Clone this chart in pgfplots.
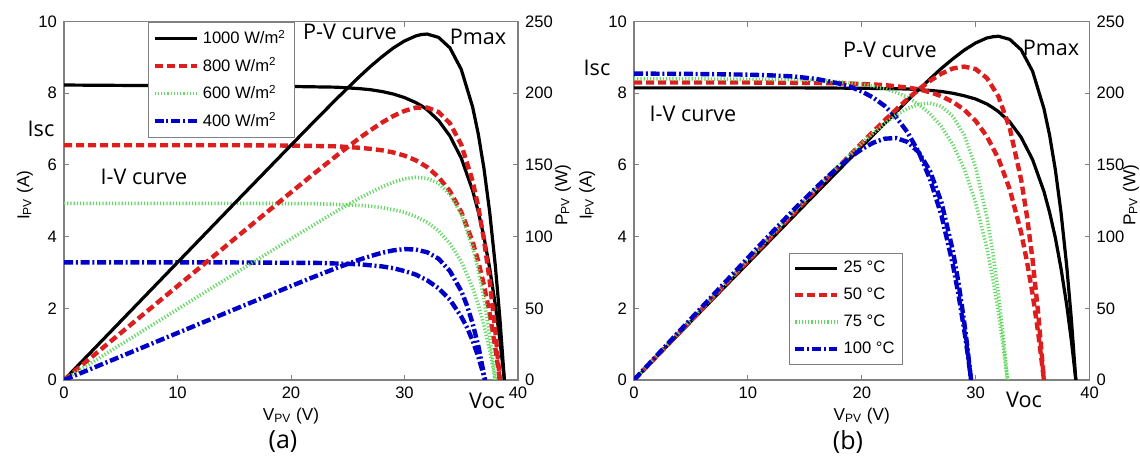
\documentclass[border=0pt]{standalone}
\usepackage{fontspec}
\setmainfont{Liberation Sans}
\newfontfamily\osans{Open Sans}
\usepackage{pgfplots}
\pgfplotsset{compat=1.18}

\definecolor{cred}{RGB}{220,30,30}
\definecolor{cgreen}{RGB}{100,215,100}
\definecolor{cblue}{RGB}{0,0,200}
\definecolor{axgray}{RGB}{128,128,128}

\pgfplotsset{
  pvbase/.style={
    scale only axis, width=227pt, height=179.2pt,
    xmin=0, xmax=40,
    tick align=inside, major tick length=2.5pt,
    every tick/.style={axgray, line width=0.5pt},
    axis line style={axgray, line width=0.6pt},
    tick label style={font=\fontsize{8.3}{10}\selectfont, black},
    /pgf/number format/assume math mode=true,
  },
  iaxis/.style={pvbase, ymin=0, ymax=10, ytick={0,2,...,10}, xtick={0,10,...,40},
    ytick pos=left, xlabel={V\textsubscript{PV} (V)}, ylabel={I\textsubscript{PV} (A)},
    every axis x label/.style={at={(axis description cs:0.5,-0.1)}, anchor=center, font=\fontsize{8.6}{10}\selectfont}},
  paxis/.style={pvbase, axis x line=none, axis y line*=right, ytick pos=right, yticklabel pos=right,
    tick align=inside, ymin=0, ymax=250, ytick={0,50,...,250}, ylabel={P\textsubscript{PV} (W)},
    legend cell align=left,
    legend image code/.code={\draw[##1] (0pt,0pt) -- (21pt,0pt);}},
  c1/.style={black, line width=1.6pt},
  c2/.style={cred, line width=2.2pt, dash pattern=on 4pt off 2pt},
  c3/.style={cgreen, line width=1.8pt, dash pattern=on 0.6pt off 1pt},
  c4/.style={cblue, line width=2.2pt, dash pattern=on 4.5pt off 1.4pt on 1pt off 1.4pt},
}

\begin{document}
\begin{tikzpicture}
\useasboundingbox (0,0) rectangle (570pt,230pt);

% ---------------- panel (a) ----------------
\begin{axis}[iaxis, at={(32pt,40pt)}, anchor=south west,
  every axis y label/.style={at={(axis description cs:-0.086,0.516)}, rotate=90, anchor=center, font=\fontsize{8.6}{10}\selectfont}]
\addplot[c1] coordinates {(0,8.23)(5,8.22)(10,8.21)(15,8.20)(20,8.19)(22,8.18)(24,8.17)(26,8.13)(27,8.10)(28,8.05)(29,7.98)(30,7.88)(31,7.74)(31.5,7.65)(32,7.54)(33,7.24)(34,6.81)(35,6.19)(36,5.29)(36.5,4.70)(37,3.99)(37.5,3.13)(38,2.10)(38.4,1.13)(38.8,0)};
\addplot[c2] coordinates {(0,6.55)(5,6.55)(10,6.55)(15,6.55)(20,6.54)(22,6.53)(24,6.52)(26,6.48)(27,6.45)(28,6.41)(29,6.35)(30,6.26)(31,6.13)(32,5.94)(33,5.66)(34,5.27)(35,4.69)(36,3.86)(36.5,3.31)(37,2.65)(37.5,1.86)(38,0.90)(38.4,0)};
\addplot[c3] coordinates {(0,4.93)(5,4.93)(10,4.93)(15,4.93)(20,4.92)(22,4.92)(24,4.90)(26,4.87)(27,4.85)(28,4.81)(29,4.75)(30,4.68)(31,4.56)(32,4.40)(33,4.16)(34,3.81)(35,3.31)(36,2.58)(36.5,2.10)(37,1.53)(37.5,0.83)(38,0)};
\addplot[c4] coordinates {(0,3.28)(5,3.28)(10,3.28)(15,3.28)(20,3.27)(22,3.27)(24,3.25)(26,3.23)(27,3.20)(28,3.17)(29,3.12)(30,3.04)(31,2.94)(32,2.78)(33,2.56)(34,2.24)(35,1.77)(35.5,1.47)(36,1.10)(36.5,0.65)(37.1,0)};
\end{axis}
\begin{axis}[paxis, at={(32pt,40pt)}, anchor=south west,
  every axis y label/.style={at={(axis description cs:1.099,0.516)}, rotate=90, anchor=center, font=\fontsize{8.6}{10}\selectfont},
  legend style={at={(0.185,1)}, anchor=north west, draw=axgray, fill=white,
    font=\fontsize{8.3}{10}\selectfont, row sep=1.4pt, inner sep=2pt}]
\addplot[c1] coordinates {(0,0)(5,41.0)(10,82.0)(15,123.0)(20,163.8)(22,180.0)(24,196.0)(26,211.4)(27,218.7)(28,225.4)(29,231.5)(30,236.5)(31,240.0)(31.5,241.0)(32,241.3)(33,239.0)(34,231.7)(35,216.7)(36,190.5)(36.5,171.6)(37,147.6)(37.5,117.5)(38,79.9)(38.4,43.4)(38.8,0)};
\addlegendentry{1000 W/m\textsuperscript{2}}
\addplot[c2] coordinates {(0,0)(5,32.8)(10,65.5)(15,98.3)(20,130.9)(22,143.8)(24,156.4)(26,168.6)(27,174.2)(28,179.5)(29,184.1)(30,187.7)(31,190.0)(32,190.0)(33,186.9)(34,179.1)(35,164.2)(36,138.9)(36.5,120.8)(37,98.0)(37.5,69.6)(38,34.2)(38.4,0)};
\addlegendentry{800 W/m\textsuperscript{2}}
\addplot[c3] coordinates {(0,0)(5,24.7)(10,49.3)(15,74.0)(20,98.5)(22,108.2)(24,117.7)(26,126.7)(27,130.8)(28,134.6)(29,137.9)(30,140.3)(31,141.4)(32,140.7)(33,137.2)(34,129.5)(35,115.8)(36,92.8)(36.5,76.7)(37,56.5)(37.5,31.2)(38,0)};
\addlegendentry{600 W/m\textsuperscript{2}}
\addplot[c4] coordinates {(0,0)(5,16.4)(10,32.8)(15,49.2)(20,65.5)(22,71.9)(24,78.1)(26,83.9)(27,86.4)(28,88.7)(29,90.4)(30,91.3)(31,91.0)(32,89.1)(33,84.6)(34,76.0)(35,62.1)(35.5,52.1)(36,39.5)(36.5,23.9)(37.1,0)};
\addlegendentry{400 W/m\textsuperscript{2}}
\end{axis}

% ---------------- panel (b) ----------------
\begin{axis}[iaxis, at={(317pt,40pt)}, anchor=south west, width=227.75pt,
  every axis y label/.style={at={(axis description cs:-0.103,0.516)}, rotate=90, anchor=center, font=\fontsize{8.6}{10}\selectfont}]
\addplot[c1] coordinates {(0,8.15)(5,8.15)(10,8.15)(15,8.15)(20,8.14)(22,8.13)(24,8.12)(26,8.08)(27,8.05)(28,8.00)(29,7.93)(30,7.84)(31,7.70)(31.5,7.60)(32,7.49)(33,7.20)(34,6.77)(35,6.15)(36,5.26)(36.5,4.67)(37,3.97)(37.5,3.11)(38,2.09)(38.4,1.12)(38.8,0)};
\addplot[c2] coordinates {(0,8.30)(5,8.30)(10,8.30)(15,8.29)(18,8.28)(20,8.26)(22,8.23)(24,8.16)(25,8.11)(26,8.03)(27,7.92)(28,7.76)(29,7.54)(30,7.23)(31,6.79)(32,6.18)(33,5.32)(34,4.11)(34.5,3.32)(35,2.40)(35.5,1.30)(36,0)};
\addplot[c3] coordinates {(0,8.40)(5,8.40)(10,8.39)(14,8.38)(16,8.36)(18,8.32)(20,8.26)(21,8.20)(22,8.13)(23,8.03)(24,7.89)(25,7.69)(26,7.43)(27,7.07)(28,6.57)(29,5.89)(30,4.95)(31,3.66)(31.5,2.84)(32,1.88)(32.4,1.00)(32.8,0)};
\addplot[c4] coordinates {(0,8.55)(5,8.54)(10,8.52)(12,8.50)(14,8.47)(16,8.40)(17,8.34)(18,8.27)(19,8.18)(20,8.05)(21,7.88)(22,7.65)(23,7.34)(24,6.92)(25,6.36)(26,5.60)(27,4.59)(28,3.22)(28.5,2.37)(29,1.39)(29.3,0.73)(29.6,0)};
\end{axis}
\begin{axis}[paxis, at={(317pt,40pt)}, anchor=south west, width=227.75pt,
  every axis y label/.style={at={(axis description cs:1.091,0.516)}, rotate=90, anchor=center, font=\fontsize{8.6}{10}\selectfont},
  legend style={at={(0.34,0.042)}, anchor=south west, draw=axgray, fill=white,
    font=\fontsize{8.3}{10}\selectfont, row sep=2.2pt, inner sep=2pt}]
\addplot[c1] coordinates {(0,0)(5,40.8)(10,81.5)(15,122.3)(20,162.8)(22,178.9)(24,194.8)(26,210.1)(27,217.4)(28,224.0)(29,230.1)(30,235.1)(31,238.6)(31.5,239.4)(32,239.8)(33,237.6)(34,230.3)(35,215.4)(36,189.3)(36.5,170.6)(37,146.7)(37.5,116.8)(38,79.4)(38.4,43.1)(38.8,0)};
\addlegendentry{25 °C}
\addplot[c2] coordinates {(0,0)(5,41.5)(10,83.0)(15,124.4)(18,149.1)(20,165.3)(22,181.1)(24,195.9)(25,202.7)(26,208.7)(27,213.7)(28,217.3)(29,218.6)(30,216.9)(31,210.5)(32,197.8)(33,175.6)(34,139.6)(34.5,114.7)(35,84.0)(35.5,46.2)(36,0)};
\addlegendentry{50 °C}
\addplot[c3] coordinates {(0,0)(5,42.0)(10,83.9)(14,117.3)(16,133.8)(18,149.8)(20,165.1)(21,172.2)(22,178.8)(23,184.6)(24,189.3)(25,192.3)(26,193.2)(27,190.8)(28,183.9)(29,170.8)(30,148.4)(31,113.3)(31.5,89.4)(32,60.3)(32.4,32.5)(32.8,0)};
\addlegendentry{75 °C}
\addplot[c4] coordinates {(0,0)(5,42.7)(10,85.2)(12,102.0)(14,118.5)(16,134.3)(17,141.8)(18,148.9)(19,155.4)(20,161.0)(21,165.5)(22,168.3)(23,168.8)(24,166.1)(25,158.9)(26,145.7)(27,123.9)(28,90.3)(28.5,67.6)(29,40.3)(29.3,21.3)(29.6,0)};
\addlegendentry{100 °C}
\end{axis}

% ---------------- annotations ----------------
\begin{scope}[every node/.style={font=\osans\fontsize{10.8}{13}\selectfont, inner sep=0pt}]
\node at (175pt,214pt) {P-V curve};
\node at (239pt,211.5pt) {Pmax};
\node at (20.5pt,165.5pt) {Isc};
\node at (72pt,141.5pt) {I-V curve};
\node at (243.5pt,29.5pt) {Voc};
\node[font=\osans\fontsize{12.5}{14}\selectfont] at (141.5pt,9pt) {(a)};
\node at (445pt,205pt) {P-V curve};
\node at (525.5pt,206pt) {Pmax};
\node at (298.5pt,196pt) {Isc};
\node at (346.5pt,173pt) {I-V curve};
\node at (512pt,30pt) {Voc};
\node[font=\osans\fontsize{12.5}{14}\selectfont] at (424pt,9pt) {(b)};
\end{scope}
\end{tikzpicture}
\end{document}
